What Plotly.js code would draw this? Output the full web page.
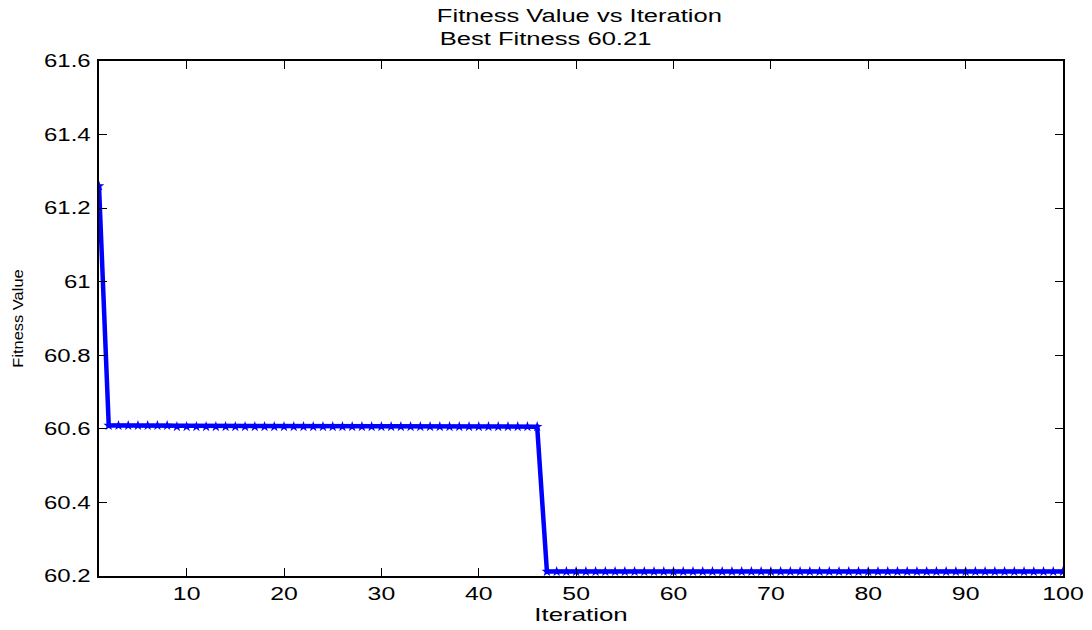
<!DOCTYPE html>
<html><head><meta charset="utf-8">
<script src="https://cdn.plot.ly/plotly-3.0.1.min.js"></script>
<style>html,body{margin:0;padding:0;background:#fff}#chart{width:1092px;height:630px}</style>
</head><body><div id="chart"></div>
<script>
// Fitness values per iteration
const firstValues = [61.26];
const plateauHigh = [60.609, 60.609, 60.609, 60.609, 60.609, 60.609, 60.609];           // iterations 2-8
const plateauMid = [60.606, 60.606, 60.606, 60.606, 60.606, 60.606, 60.606, 60.606, 60.606, 60.606,
                    60.606, 60.606, 60.606, 60.606, 60.606, 60.606, 60.606, 60.606, 60.606, 60.606,
                    60.606, 60.606, 60.606, 60.606, 60.606, 60.606, 60.606, 60.606, 60.606, 60.606,
                    60.606, 60.606, 60.606, 60.606, 60.606, 60.606, 60.606, 60.606];      // iterations 9-46
const plateauLow = [60.212, 60.212, 60.212, 60.212, 60.212, 60.212, 60.212, 60.212, 60.212, 60.212,
                    60.212, 60.212, 60.212, 60.212, 60.212, 60.212, 60.212, 60.212, 60.212, 60.212,
                    60.212, 60.212, 60.212, 60.212, 60.212, 60.212, 60.212, 60.212, 60.212, 60.212,
                    60.212, 60.212, 60.212, 60.212, 60.212, 60.212, 60.212, 60.212, 60.212, 60.212,
                    60.212, 60.212, 60.212, 60.212, 60.212, 60.212, 60.212, 60.212, 60.212, 60.212,
                    60.212, 60.212, 60.212, 60.212];                                       // iterations 47-100
const fitness = firstValues.concat(plateauHigh, plateauMid, plateauLow);
const iterations = fitness.map((_, i) => i + 1);
const xTicks = [10, 20, 30, 40, 50, 60, 70, 80, 90, 100];
const yTicks = [60.2, 60.4, 60.6, 60.8, 61, 61.2, 61.4, 61.6];
const yTickText = ['60.2', '60.4', '60.6', '60.8', '61', '61.2', '61.4', '61.6'];
const titleLines = ['Fitness Value vs Iteration', 'Best Fitness 60.21'];

const fam = 'Liberation Sans, Arial, Helvetica, sans-serif';
const font = {family: fam, size: 18, color: '#000'};

Plotly.newPlot('chart', [{
  x: iterations, y: fitness, type: 'scatter', mode: 'lines+markers',
  line: {color: '#0000ff', width: 4.5},
  marker: {color: '#0000ff', symbol: 'star', size: 8, line: {width: 0}},
  hoverinfo: 'x+y'
}], {
  width: 1092, height: 630,
  margin: {l: 99, r: 29, t: 61, b: 54},
  paper_bgcolor: '#fff', plot_bgcolor: '#fff',
  showlegend: false,
  font: font,
  annotations: [
    {text: titleLines[0], xref: 'paper', yref: 'paper', x: 0.498, y: 1.0874, xanchor: 'center', yanchor: 'middle', showarrow: false, font: font},
    {text: titleLines[1], xref: 'paper', yref: 'paper', x: 0.463, y: 1.0427, xanchor: 'center', yanchor: 'middle', showarrow: false, font: font}
  ],
  xaxis: {range: [1, 100], tickvals: xTicks, ticks: 'inside', ticklen: 8, tickcolor: '#000', tickwidth: 1.2,
          showline: true, linecolor: '#000', linewidth: 1.5, mirror: 'ticks', showgrid: false, zeroline: false,
          tickfont: font, ticklabelstandoff: 1,
          title: {text: 'Iteration', font: {family: fam, size: 19, color: '#000'}, standoff: 1}},
  yaxis: {range: [60.2, 61.6], tickvals: yTicks, ticktext: yTickText, ticks: 'inside', ticklen: 8, tickcolor: '#000', tickwidth: 1.2,
          showline: true, linecolor: '#000', linewidth: 1.5, mirror: 'ticks', showgrid: false, zeroline: false,
          tickfont: font, ticklabelstandoff: 3,
          title: {text: 'Fitness Value', font: {family: fam, size: 15.5, color: '#000'}, standoff: 28}}
}, {displayModeBar: false}).then(() => {
  const stretch = (sel, factor) => document.querySelectorAll(sel).forEach(t => {
    const L = t.getComputedTextLength();
    if (L > 0) { t.setAttribute('textLength', (L * factor).toFixed(1)); t.setAttribute('lengthAdjust', 'spacingAndGlyphs'); }
  });
  stretch('.xtick text', 1.38);
  stretch('.ytick text', 1.33);
  stretch('.annotation-text', 1.42);
  stretch('.xtitle', 1.36);
  stretch('.ytitle', 1.06);
});
</script></body></html>
